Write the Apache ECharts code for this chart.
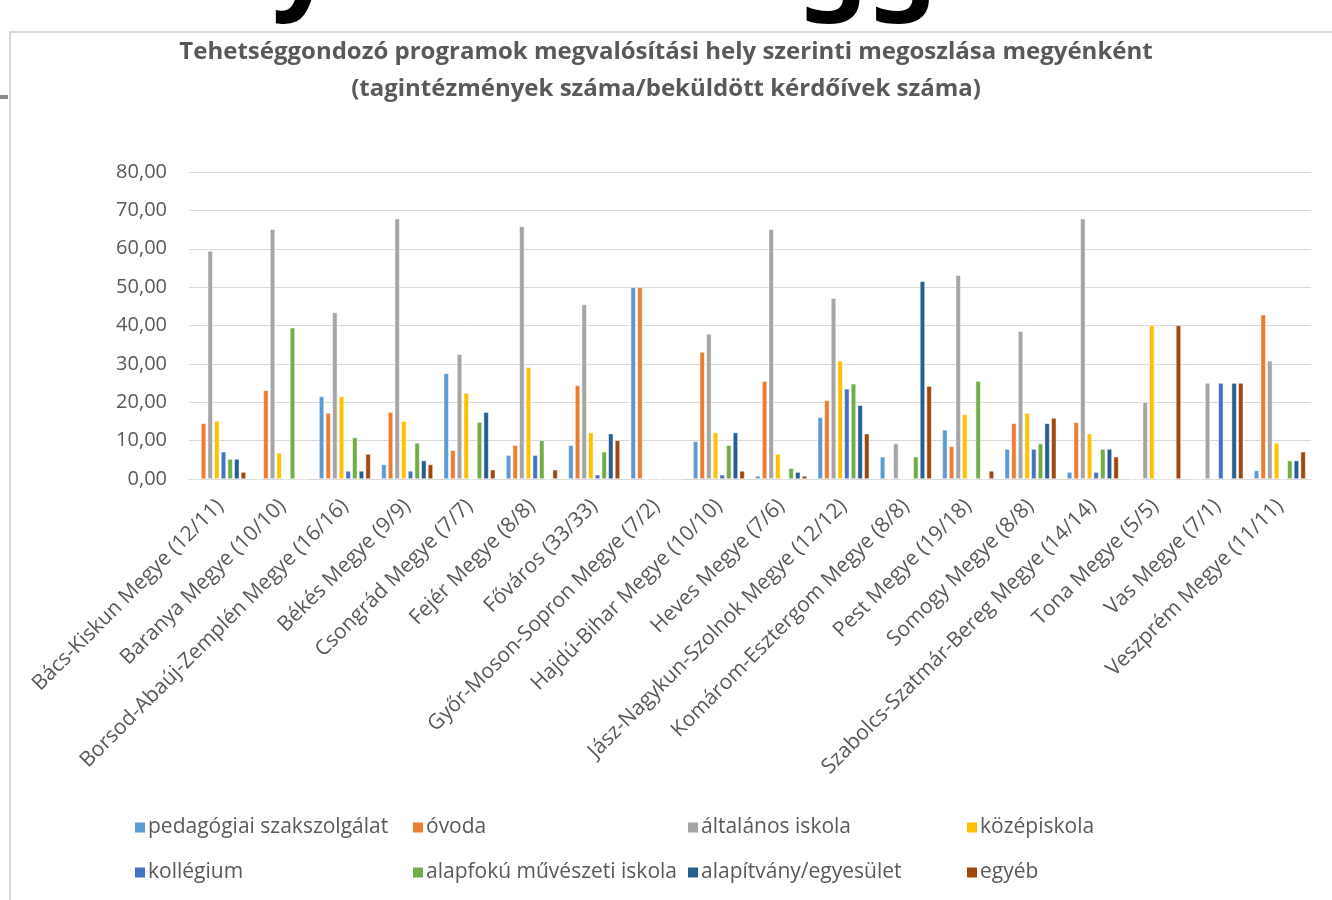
<!DOCTYPE html>
<html>
<head>
<meta charset="utf-8">
<script src="https://cdn.jsdelivr.net/npm/echarts@6/dist/echarts.min.js"></script>
<style>html,body{margin:0;padding:0;background:#fff}#c{width:1332px;height:900px}</style>
</head>
<body>
<div id="c"></div>
<script>
var categories = ['Bács-Kiskun Megye (12/11)','Baranya Megye (10/10)','Borsod-Abaúj-Zemplén Megye (16/16)','Békés Megye (9/9)','Csongrád Megye (7/7)','Fejér Megye (8/8)','Főváros (33/33)','Győr-Moson-Sopron Megye (7/2)','Hajdú-Bihar Megye (10/10)','Heves Megye (7/6)','Jász-Nagykun-Szolnok Megye (12/12)','Komárom-Esztergom Megye (8/8)','Pest Megye (19/18)','Somogy Megye (8/8)','Szabolcs-Szatmár-Bereg Megye (14/14)','Tona Megye (5/5)','Vas Megye (7/1)','Veszprém Megye (11/11)'];
var seriesNames = ['pedagógiai szakszolgálat','óvoda','általános iskola','középiskola','kollégium','alapfokú művészeti iskola','alapítvány/egyesület','egyéb'];
var pedagogiai  = [0, 0, 21.5, 3.8, 27.5, 6.2, 8.8, 50, 9.8, 0.8, 16.1, 5.8, 12.8, 7.8, 1.8, 0, 0, 2.2];
var ovoda       = [14.5, 23.1, 17.2, 17.4, 7.5, 8.8, 24.4, 50, 33.1, 25.5, 20.5, 0, 8.5, 14.5, 14.8, 0, 0, 42.8];
var altalanos   = [59.4, 65.1, 43.4, 67.8, 32.5, 65.8, 45.5, 0, 37.8, 65.1, 47.1, 9.2, 53.1, 38.5, 67.8, 20, 25, 30.8];
var kozep       = [15.1, 6.8, 21.5, 15.1, 22.4, 29.1, 12.1, 0, 12.1, 6.5, 30.8, 0, 16.8, 17.2, 11.8, 40, 0, 9.4];
var kollegium   = [7.1, 0, 2.1, 2.1, 0, 6.2, 1.1, 0, 1.1, 0, 23.5, 0, 0, 7.8, 1.8, 0, 25, 0];
var alapfoku    = [5.2, 39.4, 10.8, 9.4, 14.8, 10.1, 7.1, 0, 8.8, 2.8, 24.8, 5.8, 25.5, 9.2, 7.8, 0, 0, 4.8];
var alapitvany  = [5.2, 0, 2.1, 4.8, 17.4, 0, 11.8, 0, 12.1, 1.8, 19.2, 51.5, 0, 14.5, 7.8, 0, 25, 4.8];
var egyeb       = [1.8, 0, 6.5, 3.8, 2.4, 2.4, 10.1, 0, 2.1, 0.8, 11.8, 24.2, 2.1, 15.9, 5.8, 40, 25, 7.1];
var yTicks = [0, 10, 20, 30, 40, 50, 60, 70, 80];

var values = [pedagogiai, ovoda, altalanos, kozep, kollegium, alapfoku, alapitvany, egyeb];
var colors = ['#5B9BD5','#ED7D31','#A5A5A5','#FFC000','#4472C4','#70AD47','#255E91','#9E480E'];
var font = "'Open Sans', 'Noto Sans', sans-serif";
var txt = '#595959';

var chart = echarts.init(document.getElementById('c'));
var legendX = [131, 409, 684, 963];
var legends = seriesNames.map(function (n, i) {
  return {
    data: [{ name: n, icon: 'path://M0,0H10V10H0Z' }], left: legendX[i % 4] - 1, top: (i < 4 ? 826 : 871) - 14,
    itemWidth: 10, itemHeight: 10, itemGap: 0,
    itemStyle: { borderWidth: 0 },
    textStyle: { fontFamily: font, fontSize: 21, color: txt, padding: [0, 0, 0, -2] },
    selectedMode: false
  };
});

chart.setOption({
  animation: false,
  color: colors,
  title: {
    text: 'Tehetséggondozó programok megvalósítási hely szerinti megoszlása megyénként\n(tagintézmények száma/beküldött kérdőívek száma)',
    left: 'center', top: 29,
    textStyle: { fontFamily: font, fontSize: 24, fontWeight: 'bold', color: txt, lineHeight: 37 }
  },
  legend: legends,
  grid: { left: 189, right: 21, top: 172, bottom: 421, containLabel: false },
  xAxis: {
    type: 'category', data: categories,
    axisLine: { lineStyle: { color: '#d9d9d9', width: 1 } },
    axisTick: { show: false },
    axisLabel: { rotate: 45, interval: 0, margin: 24, fontFamily: font, fontSize: 21, color: txt }
  },
  yAxis: {
    type: 'value', min: yTicks[0], max: yTicks[yTicks.length - 1], interval: 10,
    axisLine: { show: false }, axisTick: { show: false },
    splitLine: { lineStyle: { color: '#d9d9d9', width: 1 } },
    axisLabel: { margin: 22, fontFamily: font, fontSize: 20, color: txt,
      formatter: function (v) { return v.toFixed(2).replace('.', ','); } }
  },
  series: seriesNames.map(function (n, i) {
    return {
      name: n, type: 'bar', data: values[i], barWidth: 5, barGap: '33%',
      itemStyle: { borderColor: '#fff', borderWidth: 0.5 }
    };
  }),
  graphic: [
    { type: 'rect', shape: { x: 10, y: 32, width: 1400, height: 1000 }, style: { fill: 'none', stroke: '#d9d9d9', lineWidth: 2 }, z: -1 },
    { type: 'rect', shape: { x: 0, y: 95, width: 8, height: 4 }, style: { fill: '#8c8c8c' } },
    { type: 'text', left: 272, top: -88, style: { text: 'y', fontSize: 110, fontWeight: 'bold', fontFamily: "'Noto Sans', sans-serif", fill: '#000' } },
    { type: 'text', left: 798, top: -88, style: { text: 'gg', fontSize: 110, fontWeight: 'bold', fontFamily: "'Noto Sans', sans-serif", fill: '#000', letterSpacing: -16 } }
  ]
});
</script>
</body>
</html>
